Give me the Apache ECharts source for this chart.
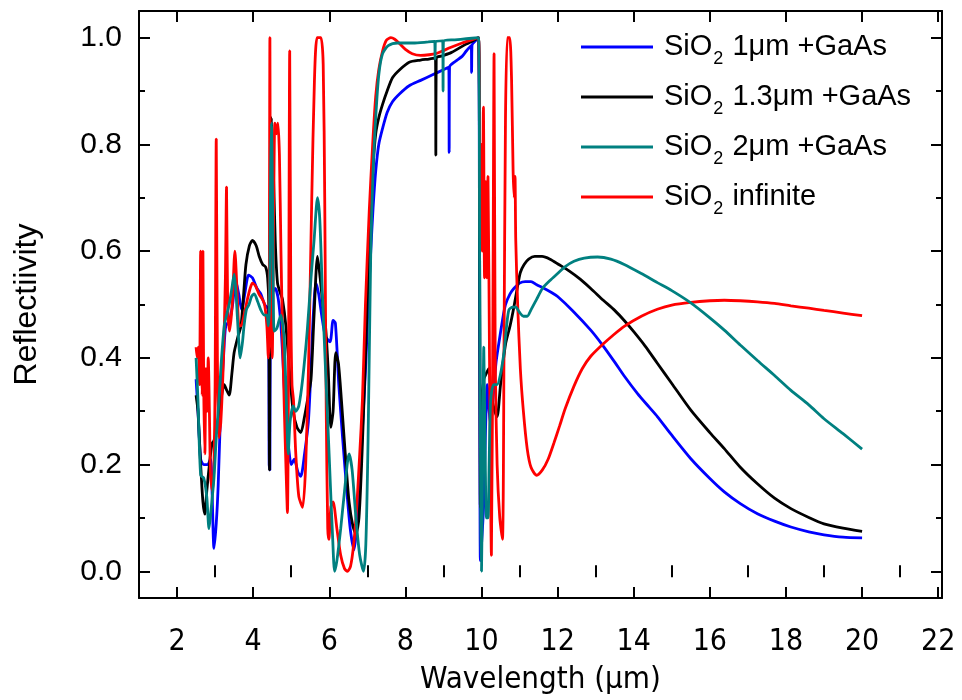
<!DOCTYPE html>
<html>
<head>
<meta charset="utf-8">
<script src="https://cdn.jsdelivr.net/npm/echarts@6/dist/echarts.min.js"></script>
<style>
  html, body { margin: 0; padding: 0; background: #fff; }
  #chart { width: 962px; height: 700px; }
</style>
</head>
<body>
<div id="chart"></div>
<script>
// Tick positions
const xMajorTicks = [2, 4, 6, 8, 10, 12, 14, 16, 18, 20, 22];
const xMinorTicks = [3, 5, 7, 9, 11, 13, 15, 17, 19, 21];
const yMajorTicks = [0, 0.2, 0.4, 0.6, 0.8, 1.0];
const yMinorTicks = [0.1, 0.3, 0.5, 0.7, 0.9];

// Reflectivity spectra: [wavelength (µm), reflectivity]
const sio2_1um = [
  [2.50,0.36],[2.55,0.30],[2.62,0.21],[2.70,0.20],[2.80,0.20],[2.88,0.21],[2.92,0.15],[2.97,0.043],
  [3.03,0.09],[3.08,0.16],[3.15,0.31],[3.22,0.40],[3.28,0.46],[3.38,0.47],[3.46,0.50],[3.54,0.545],
  [3.62,0.52],[3.70,0.49],[3.78,0.52],[3.88,0.555],[3.98,0.55],[4.10,0.53],[4.20,0.52],[4.30,0.50],
  [4.40,0.49],[4.42,0.20],[4.44,0.19],[4.45,0.45],[4.50,0.52],[4.58,0.53],[4.66,0.51],[4.74,0.45],
  [4.82,0.34],[4.88,0.27],[4.95,0.22],[5.00,0.20],[5.08,0.21],[5.18,0.185],[5.25,0.178],[5.35,0.22],
  [5.45,0.28],[5.52,0.38],[5.58,0.48],[5.65,0.54],[5.72,0.52],[5.80,0.48],[5.90,0.44],[6.02,0.43],
  [6.10,0.47],[6.16,0.465],[6.25,0.35],[6.35,0.25],[6.45,0.16],[6.55,0.08],[6.65,0.04],[6.72,0.08],
  [6.80,0.16],[6.88,0.28],[6.96,0.39],[7.02,0.50],[7.09,0.60],[7.15,0.68],[7.22,0.75],[7.30,0.80],
  [7.40,0.83],[7.52,0.86],[7.66,0.88],[7.85,0.895],[8.10,0.91],[8.40,0.92],[8.70,0.93],[9.00,0.94],
  [9.14,0.945],[9.15,0.785],[9.16,0.945],[9.30,0.955],[9.49,0.965],[9.60,0.975],[9.73,0.985],[9.74,0.935],
  [9.75,0.986],[9.85,0.995],[9.92,1.0],[9.95,0.5],[9.97,0.02],[10.0,0.05],[10.06,0.13],[10.10,0.25],
  [10.15,0.35],[10.20,0.30],[10.24,0.275],[10.30,0.32],[10.38,0.39],[10.45,0.425],[10.55,0.47],[10.63,0.50],
  [10.75,0.52],[10.85,0.53],[11.0,0.54],[11.15,0.543],[11.3,0.543],[11.45,0.537],[11.65,0.53],[11.85,0.522],
  [12.0,0.515],[12.4,0.488],[12.87,0.452],[13.18,0.424],[13.5,0.392],[13.75,0.366],[14.1,0.333],[14.4,0.308],
  [14.62,0.29],[15.0,0.255],[15.5,0.211],[16.0,0.174],[16.38,0.149],[16.8,0.127],[17.25,0.108],[17.7,0.094],
  [18.13,0.083],[18.6,0.074],[19.0,0.0685],[19.5,0.064],[20.0,0.0625]
];

const sio2_13um = [
  [2.50,0.33],[2.55,0.30],[2.62,0.20],[2.68,0.13],[2.73,0.107],[2.78,0.15],[2.85,0.20],[2.92,0.24],
  [2.97,0.245],[3.05,0.27],[3.15,0.32],[3.24,0.35],[3.30,0.34],[3.37,0.33],[3.44,0.37],[3.50,0.41],
  [3.60,0.44],[3.68,0.46],[3.75,0.52],[3.81,0.575],[3.90,0.61],[3.98,0.62],[4.08,0.61],[4.16,0.59],
  [4.25,0.575],[4.33,0.57],[4.38,0.55],[4.41,0.50],[4.43,0.19],[4.45,0.70],[4.48,0.85],[4.52,0.78],
  [4.58,0.62],[4.64,0.54],[4.72,0.52],[4.77,0.51],[4.86,0.46],[4.95,0.38],[5.05,0.30],[5.15,0.27],
  [5.25,0.26],[5.35,0.29],[5.45,0.33],[5.52,0.36],[5.60,0.48],[5.69,0.59],[5.76,0.55],[5.83,0.50],
  [5.90,0.46],[5.97,0.38],[6.04,0.27],[6.10,0.30],[6.17,0.41],[6.24,0.39],[6.32,0.32],[6.42,0.22],
  [6.52,0.13],[6.62,0.085],[6.70,0.07],[6.78,0.10],[6.86,0.22],[6.95,0.40],[7.02,0.55],[7.09,0.675],
  [7.16,0.77],[7.22,0.82],[7.30,0.85],[7.40,0.875],[7.52,0.90],[7.66,0.925],[7.85,0.94],[8.10,0.954],
  [8.40,0.958],[8.62,0.96],[8.79,0.962],[8.80,0.78],[8.81,0.962],[8.97,0.966],[9.20,0.972],[9.40,0.98],
  [9.60,0.988],[9.80,0.995],[9.92,1.0],[9.95,0.6],[9.97,0.12],[10.0,0.30],[10.06,0.36],[10.12,0.37],
  [10.19,0.38],[10.24,0.34],[10.28,0.32],[10.35,0.30],[10.41,0.29],[10.50,0.35],[10.63,0.425],[10.75,0.46],
  [10.85,0.495],[10.95,0.535],[11.02,0.56],[11.12,0.575],[11.24,0.585],[11.40,0.59],[11.59,0.59],[11.80,0.585],
  [12.03,0.575],[12.3,0.563],[12.6,0.547],[12.87,0.53],[13.2,0.508],[13.5,0.489],[13.75,0.47],[14.0,0.449],
  [14.3,0.422],[14.62,0.39],[15.0,0.352],[15.5,0.302],[16.0,0.26],[16.38,0.23],[16.8,0.195],[17.25,0.164],
  [17.7,0.137],[18.13,0.1175],[18.6,0.101],[19.0,0.089],[19.5,0.081],[20.0,0.075]
];

const sio2_2um = [
  [2.50,0.40],[2.55,0.32],[2.62,0.18],[2.70,0.175],[2.78,0.14],[2.84,0.08],[2.90,0.12],[2.97,0.175],
  [3.03,0.25],[3.10,0.32],[3.17,0.40],[3.24,0.46],[3.30,0.48],[3.37,0.50],[3.44,0.53],[3.50,0.557],
  [3.55,0.52],[3.59,0.47],[3.66,0.40],[3.72,0.43],[3.76,0.46],[3.82,0.49],[3.89,0.50],[3.96,0.515],
  [4.03,0.52],[4.12,0.505],[4.20,0.49],[4.29,0.48],[4.36,0.48],[4.40,0.46],[4.43,0.50],[4.46,0.75],
  [4.48,0.84],[4.51,0.70],[4.55,0.45],[4.62,0.455],[4.68,0.47],[4.73,0.48],[4.78,0.46],[4.82,0.43],
  [4.88,0.30],[4.92,0.22],[4.97,0.28],[5.05,0.31],[5.12,0.30],[5.20,0.31],[5.30,0.36],[5.42,0.45],
  [5.52,0.55],[5.60,0.62],[5.69,0.70],[5.75,0.66],[5.82,0.52],[5.90,0.38],[5.96,0.28],[6.03,0.16],
  [6.09,0.06],[6.14,0.0],[6.20,0.02],[6.30,0.08],[6.40,0.15],[6.52,0.22],[6.60,0.19],[6.70,0.10],
  [6.80,0.03],[6.90,0.0],[6.96,0.05],[7.02,0.25],[7.09,0.60],[7.15,0.75],[7.22,0.85],[7.30,0.93],
  [7.40,0.97],[7.55,0.985],[7.80,0.99],[8.20,0.99],[8.60,0.992],[8.77,0.993],[8.78,0.96],[8.79,0.993],
  [8.98,0.994],[8.99,0.90],[9.00,0.994],[9.30,0.996],[9.60,0.998],[9.92,1.0],[9.95,0.6],[9.98,0.1],
  [10.0,0.0],[10.03,0.2],[10.06,0.42],[10.10,0.2],[10.13,0.1],[10.17,0.10],[10.20,0.2],[10.24,0.32],
  [10.32,0.35],[10.41,0.35],[10.50,0.37],[10.59,0.41],[10.66,0.46],[10.72,0.49],[10.82,0.495],[10.90,0.495],
  [11.0,0.485],[11.1,0.478],[11.2,0.478],[11.3,0.49],[11.45,0.51],[11.6,0.53],[11.8,0.545],[12.0,0.558],
  [12.2,0.571],[12.43,0.581],[12.7,0.587],[13.05,0.589],[13.4,0.585],[13.75,0.575],[14.2,0.558],[14.62,0.541],
  [15.0,0.526],[15.5,0.503],[16.0,0.475],[16.38,0.452],[16.8,0.424],[17.25,0.395],[17.7,0.367],[18.13,0.339],
  [18.6,0.312],[19.0,0.286],[19.5,0.258],[20.0,0.229]
];

const sio2_inf = [
  [2.50,0.42],[2.53,0.40],[2.56,0.42],[2.59,0.35],[2.62,0.60],[2.64,0.40],[2.66,0.33],[2.68,0.60],
  [2.70,0.35],[2.73,0.22],[2.76,0.38],[2.79,0.30],[2.82,0.40],[2.85,0.30],[2.88,0.18],[2.93,0.15],
  [2.97,0.20],[3.00,0.35],[3.03,0.81],[3.06,0.40],[3.10,0.25],[3.15,0.28],[3.22,0.40],[3.27,0.55],
  [3.30,0.72],[3.33,0.50],[3.38,0.45],[3.45,0.50],[3.52,0.60],[3.58,0.52],[3.63,0.46],[3.68,0.46],
  [3.76,0.48],[3.85,0.51],[3.92,0.53],[3.98,0.54],[4.06,0.535],[4.15,0.52],[4.24,0.51],[4.30,0.50],
  [4.36,0.46],[4.40,0.40],[4.42,0.45],[4.44,1.0],[4.46,0.50],[4.50,0.40],[4.53,0.60],[4.57,0.84],
  [4.61,0.82],[4.65,0.84],[4.69,0.78],[4.73,0.60],[4.77,0.45],[4.82,0.30],[4.86,0.20],[4.90,0.11],
  [4.93,0.40],[4.96,0.975],[4.99,0.50],[5.02,0.35],[5.06,0.32],[5.12,0.22],[5.20,0.14],[5.30,0.12],
  [5.38,0.20],[5.46,0.40],[5.54,0.70],[5.61,0.92],[5.68,1.0],[5.78,1.0],[5.84,0.95],[5.88,0.70],
  [5.92,0.30],[5.96,0.08],[5.99,0.06],[6.04,0.12],[6.10,0.13],[6.20,0.08],[6.30,0.03],[6.40,0.005],
  [6.48,0.0],[6.56,0.01],[6.64,0.05],[6.72,0.12],[6.80,0.22],[6.87,0.32],[6.95,0.50],[7.05,0.675],
  [7.14,0.80],[7.22,0.89],[7.30,0.94],[7.40,0.975],[7.50,0.995],[7.62,1.0],[7.72,0.997],[7.83,0.99],
  [8.0,0.978],[8.18,0.97],[8.4,0.967],[8.62,0.968],[8.8,0.97],[8.97,0.975],[9.2,0.982],[9.49,0.99],
  [9.7,0.995],[9.92,1.0],[9.95,0.8],[9.97,0.62],[10.0,0.80],[10.02,0.60],[10.05,0.87],[10.08,0.55],
  [10.11,0.73],[10.14,0.55],[10.17,0.74],[10.21,0.40],[10.26,0.03],[10.30,0.50],[10.33,0.97],[10.36,0.40],
  [10.41,0.20],[10.48,0.10],[10.55,0.06],[10.59,0.40],[10.63,0.85],[10.68,1.0],[10.74,1.0],[10.79,0.92],
  [10.83,0.75],[10.86,0.70],[10.88,0.74],[10.90,0.62],[10.95,0.50],[11.02,0.38],[11.1,0.30],[11.2,0.23],
  [11.3,0.195],[11.45,0.18],[11.6,0.19],[11.75,0.21],[11.9,0.24],[12.05,0.272],[12.2,0.305],[12.43,0.347],
  [12.65,0.38],[12.87,0.403],[13.18,0.425],[13.45,0.442],[13.75,0.459],[14.2,0.478],[14.62,0.491],[15.0,0.499],
  [15.5,0.504],[16.0,0.507],[16.38,0.508],[16.8,0.507],[17.25,0.505],[17.7,0.502],[18.13,0.4975],[18.6,0.493],
  [19.0,0.489],[19.5,0.484],[20.0,0.479]
];

const seriesNames = ['SiO2 1um', 'SiO2 1.3um', 'SiO2 2um', 'SiO2 inf'];
const legendText = {
  'SiO2 1um':   '{a|SiO}{s|2}{a| 1\u03bcm +GaAs}',
  'SiO2 1.3um': '{a|SiO}{s|2}{a| 1.3\u03bcm +GaAs}',
  'SiO2 2um':   '{a|SiO}{s|2}{a| 2\u03bcm +GaAs}',
  'SiO2 inf':   '{a|SiO}{s|2}{a| infinite}'
};
const seriesColors = ['#0000ff', '#000000', '#008080', '#ff0000'];

const FONT = '"Liberation Sans", Arial, sans-serif';
const NARROW = '"Liberation Sans Narrow", "DejaVu Sans Condensed", "Liberation Sans", sans-serif';
const X_MIN = 1, X_MAX = 22.1, Y_MIN = -0.05, Y_MAX = 1.05;

function xAxisDef(position, ticks, len, opts) {
  return Object.assign({
    type: 'value', min: X_MIN, max: X_MAX, position: position,
    axisLine: { show: false },
    axisTick: { show: true, inside: true, length: len, customValues: ticks,
                lineStyle: { color: '#000', width: 2 } },
    axisLabel: { show: false },
    splitLine: { show: false }
  }, opts || {});
}
function yAxisDef(position, ticks, len, opts) {
  return Object.assign({
    type: 'value', min: Y_MIN, max: Y_MAX, position: position,
    axisLine: { show: false },
    axisTick: { show: true, inside: true, length: len, customValues: ticks,
                lineStyle: { color: '#000', width: 2 } },
    axisLabel: { show: false },
    splitLine: { show: false }
  }, opts || {});
}

const boxLine = { show: true, onZero: false, lineStyle: { color: '#000', width: 2 } };

const chart = echarts.init(document.getElementById('chart'), null, { renderer: 'canvas' });

function lineSeries(name, data, color) {
  return {
    name: name, type: 'line', data: data,
    xAxisIndex: 0, yAxisIndex: 0,
    showSymbol: false, symbol: 'none',
    smooth: 0.25,
    lineStyle: { color: color, width: 2.8 },
    itemStyle: { color: color },
    clip: true
  };
}

chart.setOption({
  animation: false,
  backgroundColor: '#ffffff',
  grid: { left: 139, right: 20, top: 11, bottom: 102, containLabel: false, outerBoundsMode: 'none' },
  legend: {
    orient: 'vertical',
    left: 576, top: 21,
    data: seriesNames,
    icon: 'rect',
    itemWidth: 72, itemHeight: 3,
    itemGap: 8,
    formatter: function (n) { return legendText[n]; },
    textStyle: {
      padding: [0, 0, 0, 6],
      rich: {
        a: { fontFamily: FONT, fontSize: 29, color: '#000', lineHeight: 30 },
        s: { fontFamily: FONT, fontSize: 18, color: '#000', lineHeight: 17, padding: [24, 1, 0, 1] }
      }
    }
  },
  xAxis: [
    xAxisDef('bottom', xMajorTicks, 11, {
      axisLine: boxLine,
      axisLabel: { show: true, customValues: xMajorTicks, margin: 29,
                   fontFamily: NARROW, fontSize: 30, color: '#000' },
      name: 'Wavelength (\u03bcm)', nameLocation: 'middle', nameGap: 66,
      nameMoveOverlap: false,
      nameTextStyle: { fontFamily: NARROW, fontSize: 31, color: '#000' }
    }),
    xAxisDef('bottom', xMinorTicks, 6),
    xAxisDef('top', xMajorTicks, 11, { axisLine: boxLine }),
    xAxisDef('top', xMinorTicks, 6)
  ],
  yAxis: [
    yAxisDef('left', yMajorTicks, 11, {
      axisLine: boxLine,
      axisLabel: { show: true, customValues: yMajorTicks, margin: 17,
                   fontFamily: FONT, fontSize: 30, color: '#000',
                   formatter: function (v) { return v.toFixed(1); } },
      name: 'Reflectiivity', nameLocation: 'middle', nameGap: 96, nameRotate: 90,
      nameMoveOverlap: false,
      nameTextStyle: { fontFamily: FONT, fontSize: 32, color: '#000' }
    }),
    yAxisDef('left', yMinorTicks, 6),
    yAxisDef('right', yMajorTicks, 11, { axisLine: boxLine }),
    yAxisDef('right', yMinorTicks, 6)
  ],
  series: [
    lineSeries(seriesNames[0], sio2_1um, seriesColors[0]),
    lineSeries(seriesNames[1], sio2_13um, seriesColors[1]),
    lineSeries(seriesNames[3], sio2_inf, seriesColors[3]),
    lineSeries(seriesNames[2], sio2_2um, seriesColors[2])
  ]
});
</script>
</body>
</html>
